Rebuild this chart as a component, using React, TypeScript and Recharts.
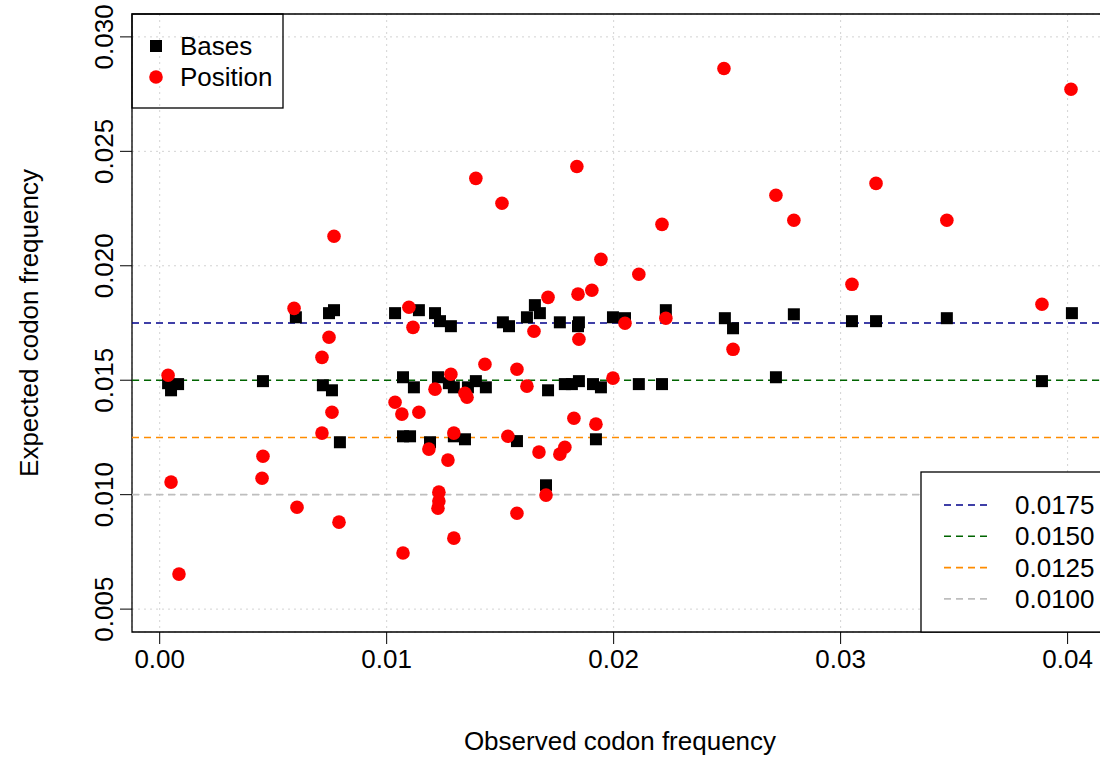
import React from 'react';
import {
  ScatterChart,
  Scatter,
  XAxis,
  YAxis,
  CartesianGrid,
  ReferenceLine,
  ReferenceArea,
  Legend,
} from 'recharts';

const FONT = '"Liberation Sans", Arial, Helvetica, sans-serif';

// observed vs expected codon frequency
const basesObserved = [
  0.00037, 0.0005, 0.00081, 0.00455, 0.006, 0.00746, 0.00768, 0.00719, 0.00759, 0.00794,
  0.01037, 0.01072, 0.01072, 0.01103, 0.0112, 0.01142, 0.01191, 0.01213, 0.01226, 0.01235,
  0.01274, 0.01283, 0.01296, 0.01296, 0.01345, 0.01358, 0.01393, 0.01437, 0.01512, 0.01539,
  0.01574, 0.01618, 0.01653, 0.01675, 0.01702, 0.01711, 0.01763, 0.01785, 0.01816, 0.01843,
  0.01847, 0.01847, 0.01909, 0.01922, 0.01944, 0.01997, 0.0205, 0.02111, 0.02213, 0.0223,
  0.0249, 0.02526, 0.02715, 0.02794, 0.0305, 0.03156, 0.03468, 0.03887, 0.04019,
];
const basesExpected = [
  0.01487, 0.01456, 0.01483, 0.01496, 0.01775, 0.01793, 0.01806, 0.01478, 0.01456, 0.01229,
  0.01793, 0.01513, 0.01255, 0.01255, 0.01469, 0.01806, 0.01229, 0.01793, 0.01513, 0.01758,
  0.01487, 0.01736, 0.01469, 0.01255, 0.01242, 0.01469, 0.01496, 0.01469, 0.01753, 0.01736,
  0.01234, 0.01775, 0.01828, 0.01793, 0.01041, 0.01456, 0.01753, 0.01483, 0.01483, 0.01736,
  0.01753, 0.01496, 0.01483, 0.01242, 0.01469, 0.01775, 0.01771, 0.01483, 0.01483, 0.01806,
  0.01771, 0.01727, 0.01513, 0.01788, 0.01758, 0.01758, 0.01771, 0.01496, 0.01793,
];

const positionObserved = [
  0.00037, 0.0005, 0.00085, 0.00451, 0.00455, 0.00592, 0.00605, 0.00715, 0.00715, 0.00746,
  0.00759, 0.00768, 0.0079, 0.01037, 0.01067, 0.01072, 0.01098, 0.01116, 0.01142, 0.01186,
  0.01213, 0.01226, 0.0123, 0.0123, 0.0127, 0.01283, 0.01296, 0.01296, 0.01345, 0.01354,
  0.01393, 0.01433, 0.01508, 0.01534, 0.01574, 0.01574, 0.01618, 0.01649, 0.01671, 0.01702,
  0.01711, 0.01763, 0.01785, 0.01825, 0.01838, 0.01843, 0.01847, 0.01904, 0.01922, 0.01944,
  0.01997, 0.0205, 0.02111, 0.02213, 0.0223, 0.02486, 0.02526, 0.02715, 0.02794, 0.0305,
  0.03156, 0.03468, 0.03887, 0.04015,
];
const positionExpected = [
  0.01522, 0.01055, 0.00653, 0.01072, 0.01168, 0.01814, 0.00945, 0.016, 0.01269, 0.01688,
  0.0136, 0.02129, 0.0088, 0.01404, 0.01352, 0.00745, 0.01819, 0.01731, 0.0136, 0.01199,
  0.01461, 0.00941, 0.01011, 0.00972, 0.01151, 0.01526, 0.01269, 0.0081, 0.01443, 0.01426,
  0.02382, 0.0157, 0.02273, 0.01255, 0.01548, 0.00919, 0.01474, 0.01714, 0.01186, 0.00998,
  0.01862, 0.01177, 0.01207, 0.01334, 0.02434, 0.01876, 0.01679, 0.01893, 0.01308, 0.02028,
  0.01509, 0.01749, 0.01963, 0.02181, 0.01771, 0.02862, 0.01635, 0.02308, 0.02199, 0.01919,
  0.0236, 0.02199, 0.01832, 0.02771,
];

const xTicks = [0, 0.01, 0.02, 0.03, 0.04];
const yTicks = [0.005, 0.01, 0.015, 0.02, 0.025, 0.03];
const seriesNames = ['Bases', 'Position'];
const thresholds = [0.0175, 0.015, 0.0125, 0.01];
const thresholdLabels = ['0.0175', '0.0150', '0.0125', '0.0100'];
const thresholdColors = ['#00008b', '#006400', '#ff8c00', '#bebebe'];

const xDomain = [-0.00122, 0.04178];
const yDomain = [0.004, 0.031];

const SquareDot = (props: any) => {
  const { cx, cy } = props;
  return <rect x={cx - 6} y={cy - 6} width={12} height={12} fill="#000" />;
};

const RoundDot = (props: any) => {
  const { cx, cy } = props;
  return <circle cx={cx} cy={cy} r={6.8} fill="#ff0000" />;
};

const YTick = (props: any) => {
  const { x, y, payload } = props;
  return (
    <text
      x={x}
      y={y}
      transform={`rotate(-90, ${x}, ${y})`}
      textAnchor="middle"
      fontSize={26}
      fontFamily={FONT}
      fill="#000"
    >
      {payload.value.toFixed(3)}
    </text>
  );
};

const YTitle = (props: any) => {
  const vb = props.viewBox || { x: 0, y: 14, width: 132, height: 618 };
  const cx = 38;
  const cy = vb.y + vb.height / 2;
  return (
    <text
      x={cx}
      y={cy}
      transform={`rotate(-90, ${cx}, ${cy})`}
      textAnchor="middle"
      fontSize={26}
      fontFamily={FONT}
      fill="#000"
    >
      Expected codon frequency
    </text>
  );
};

const LegendOverlay = () => (
  <svg width={1100} height={757} style={{ position: 'absolute', left: 0, top: 0 }}>
    <g fontFamily={FONT} fontSize={26} fill="#000">
      <rect x={132} y={14} width={151} height={94} fill="none" stroke="#000" strokeWidth={1.3} />
      <rect x={150} y={40} width={12} height={12} fill="#000" />
      <text x={180} y={55}>{seriesNames[0]}</text>
      <circle cx={156} cy={77} r={6.8} fill="#ff0000" />
      <text x={180} y={86}>{seriesNames[1]}</text>

      <rect x={921} y={472} width={200} height={160} fill="#fff" stroke="#000" strokeWidth={1.3} />
      {thresholds.map((t, i) => {
        const ly = 505 + i * 31.3;
        return (
          <g key={t}>
            <line x1={944} x2={989} y1={ly} y2={ly} stroke={thresholdColors[i]} strokeWidth={1.6} strokeDasharray="7 5" />
            <text x={1015} y={ly + 9}>{thresholdLabels[i]}</text>
          </g>
        );
      })}
    </g>
  </svg>
);

export default function App() {
  const basesData = basesObserved.map((x, i) => ({ x, y: basesExpected[i] }));
  const positionData = positionObserved.map((x, i) => ({ x, y: positionExpected[i] }));

  return (
    <div
      style={{
        position: 'absolute',
        left: 0,
        top: 0,
        width: 1100,
        height: 757,
        overflow: 'hidden',
        background: '#fff',
        fontFamily: FONT,
      }}
    >
      <ScatterChart width={1110} height={757} margin={{ top: 14, right: 2, bottom: 0, left: 0 }}>
        <CartesianGrid stroke="#d3d3d3" strokeDasharray="2 4" />
        <XAxis
          type="number"
          dataKey="x"
          domain={xDomain}
          ticks={xTicks}
          interval={0}
          allowDataOverflow
          height={125}
          tickSize={12}
          tickMargin={6}
          axisLine={false}
          stroke="#000"
          tick={{ fill: '#000', fontSize: 26, fontFamily: FONT }}
          tickFormatter={(v: number) => v.toFixed(2)}
          label={{
            value: 'Observed codon frequency',
            position: 'insideBottom',
            offset: 7,
            fill: '#000',
            fontSize: 26,
            fontFamily: FONT,
          }}
        />
        <YAxis
          type="number"
          dataKey="y"
          domain={yDomain}
          ticks={yTicks}
          interval={0}
          allowDataOverflow
          width={132}
          tickSize={12}
          tickMargin={7}
          axisLine={false}
          stroke="#000"
          tick={(p: any) => <YTick {...p} />}
          label={(p: any) => <YTitle {...p} />}
        />
        <Scatter name={seriesNames[0]} data={basesData} shape={(p: any) => <SquareDot {...p} />} isAnimationActive={false} />
        <Scatter name={seriesNames[1]} data={positionData} shape={(p: any) => <RoundDot {...p} />} isAnimationActive={false} />
        {thresholds.map((t, i) => (
          <ReferenceLine key={t} y={t} stroke={thresholdColors[i]} strokeWidth={1.6} strokeDasharray="7 5" />
        ))}
        <ReferenceArea
          x1={xDomain[0]}
          x2={xDomain[1]}
          y1={yDomain[0]}
          y2={yDomain[1]}
          fill="none"
          stroke="#000"
          strokeWidth={1.3}
        />
        <Legend
          layout="horizontal"
          verticalAlign="middle"
          align="center"
          wrapperStyle={{ left: 0, top: 0, width: 1100, height: 757, pointerEvents: 'none' }}
          content={() => <LegendOverlay />}
        />
      </ScatterChart>
    </div>
  );
}
